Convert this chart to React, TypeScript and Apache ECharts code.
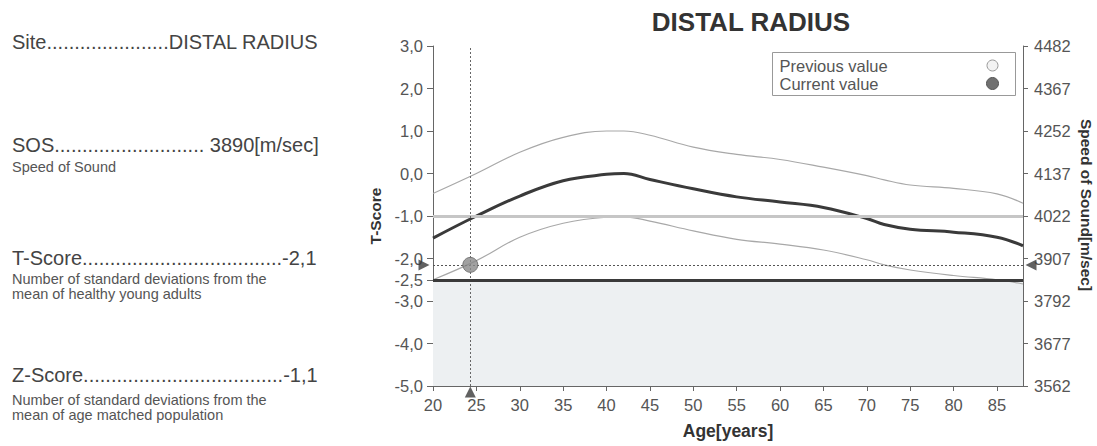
import React, { useEffect, useRef } from "react";
import * as echarts from "echarts";

// ---- data ----
const ages = [20, 25, 30, 35, 40, 42, 45, 50, 55, 60, 65, 70, 72, 75, 80, 85, 88];
const meanT = [-1.52, -1.0, -0.53, -0.17, -0.02, 0.0, -0.14, -0.36, -0.55, -0.67, -0.8, -1.06, -1.2, -1.31, -1.38, -1.5, -1.7];
const upperT = [-0.47, 0.0, 0.5, 0.85, 1.0, 1.0, 0.9, 0.62, 0.45, 0.33, 0.15, -0.05, -0.15, -0.27, -0.35, -0.48, -0.7];
const lowerT = [-2.5, -2.05, -1.5, -1.17, -1.03, -1.02, -1.12, -1.35, -1.55, -1.66, -1.8, -2.03, -2.15, -2.27, -2.4, -2.5, -2.6];

const xTicks = [20, 25, 30, 35, 40, 45, 50, 55, 60, 65, 70, 75, 80, 85];
const tTicks = [3, 2, 1, 0, -1, -2, -2.5, -3, -4, -5];
const sosTickLabels = ["4482", "4367", "4252", "4137", "4022", "3907", "3792", "3677", "3562"]; // for T = 3 ... -5

const patientAge = 24.3;
const patientT = -2.15;
const osteoporosisT = -2.5;
const osteopeniaT = -1.0;

const panelRows = [
  { label: "Site", dots: 22, value: "DISTAL RADIUS", y: 42 },
  { label: "SOS", dots: 27, value: " 3890[m/sec]", y: 145 },
  { label: "T-Score", dots: 36, value: "-2,1", y: 258 },
  { label: "Z-Score", dots: 36, value: "-1,1", y: 375 },
];
const panelNotes = [
  { text: "Speed of Sound", y: 167 },
  { text: "Number of standard deviations from the", y: 279 },
  { text: "mean of healthy young adults", y: 294 },
  { text: "Number of standard deviations from the", y: 400 },
  { text: "mean of age matched population", y: 415 },
];

const FONT = "'Liberation Sans', Arial, Helvetica, sans-serif";
const fmt = (v: number) => v.toFixed(1).replace(".", ",");

export default function App() {
  const ref = useRef<HTMLDivElement>(null);
  useEffect(() => {
    const chart = echarts.init(ref.current!, null, { renderer: "svg" });
    const pairs = (ys: number[]) => ages.map((a, i) => [a, ys[i]]);

    const graphic: any[] = [];
    panelRows.forEach((r) => {
      graphic.push({
        type: "text",
        x: 12,
        y: r.y,
        style: {
          text: r.label + ".".repeat(r.dots) + r.value,
          fill: "#444",
          font: `20px ${FONT}`,
          verticalAlign: "middle",
        },
      });
    });
    panelNotes.forEach((n) => {
      graphic.push({
        type: "text",
        x: 12,
        y: n.y,
        style: { text: n.text, fill: "#555", font: `14.5px ${FONT}`, verticalAlign: "middle" },
      });
    });
    // legend box
    graphic.push({
      type: "group",
      left: 772,
      top: 52,
      children: [
        { type: "rect", shape: { x: 0, y: 0, width: 243, height: 43 }, style: { fill: "#fff", stroke: "#999", lineWidth: 1 } },
        { type: "text", x: 7, y: 13, style: { text: "Previous value", fill: "#555", font: `16.5px ${FONT}`, verticalAlign: "middle" } },
        { type: "text", x: 7, y: 31, style: { text: "Current value", fill: "#555", font: `16.5px ${FONT}`, verticalAlign: "middle" } },
        { type: "circle", shape: { cx: 220, cy: 13, r: 5.5 }, style: { fill: "#f3f3f3", stroke: "#999", lineWidth: 1 } },
        { type: "circle", shape: { cx: 220, cy: 31, r: 6 }, style: { fill: "#707070", stroke: "#555", lineWidth: 1 } },
      ],
    });
    // right axis name
    graphic.push({
      type: "text",
      x: 1086,
      y: 205,
      rotation: -Math.PI / 2,
      style: {
        text: "Speed of Sound[m/sec]",
        fill: "#333",
        font: `bold 15.5px ${FONT}`,
        align: "center",
        verticalAlign: "middle",
      },
    });

    const option: any = {
      animation: false,
      backgroundColor: "#fff",
      title: {
        text: "DISTAL RADIUS",
        left: 746,
        top: 4,
        textAlign: "center",
        textStyle: { fontFamily: FONT, fontSize: 26, fontWeight: "bold", color: "#333" },
      },
      grid: { left: 433, right: 74, top: 46, bottom: 60, containLabel: false },
      xAxis: {
        type: "value",
        min: 20,
        max: 88,
        name: "Age[years]",
        nameLocation: "middle",
        nameGap: 36,
        nameTextStyle: { fontFamily: FONT, fontSize: 17.5, fontWeight: "bold", color: "#333" },
        axisLine: { onZero: false, lineStyle: { color: "#666", width: 1 } },
        axisTick: { show: true, length: 5, customValues: xTicks, lineStyle: { color: "#666" } },
        axisLabel: { customValues: xTicks, fontFamily: FONT, fontSize: 16.5, color: "#555", margin: 10 },
        splitLine: { show: false },
      },
      yAxis: [
        {
          type: "value",
          min: -5,
          max: 3,
          position: "left",
          name: "T-Score",
          nameLocation: "middle",
          nameRotate: 90,
          nameGap: 50,
          nameTextStyle: { fontFamily: FONT, fontSize: 15.5, fontWeight: "bold", color: "#333" },
          axisLine: { show: true, lineStyle: { color: "#666", width: 1 } },
          axisTick: { show: true, length: 6, customValues: tTicks, lineStyle: { color: "#666" } },
          axisLabel: {
            customValues: tTicks,
            formatter: (v: number) => fmt(v),
            fontFamily: FONT,
            fontSize: 16.5,
            color: "#555",
            margin: 10,
          },
          splitLine: { show: false },
        },
        {
          type: "value",
          min: -5,
          max: 3,
          interval: 1,
          position: "right",
          axisLine: { show: true, lineStyle: { color: "#666", width: 1 } },
          axisTick: { show: true, length: 5, lineStyle: { color: "#666" } },
          axisLabel: {
            formatter: (v: number) => sosTickLabels[Math.round(3 - v)],
            fontFamily: FONT,
            fontSize: 16.5,
            color: "#555",
            margin: 11,
          },
          splitLine: { show: false },
        },
      ],
      graphic,
      series: [
        {
          name: "zones",
          type: "line",
          data: [],
          markArea: {
            silent: true,
            itemStyle: { color: "#edf0f2" },
            data: [[{ yAxis: -5 }, { yAxis: osteoporosisT }]],
          },
          markLine: {
            silent: true,
            symbol: "none",
            label: { show: false },
            data: [
              { yAxis: osteopeniaT, lineStyle: { color: "#c6c6c6", width: 3, type: "solid" } },
              { yAxis: patientT, lineStyle: { color: "#555", width: 1.2, type: [2, 2] } },
              { xAxis: patientAge, lineStyle: { color: "#666", width: 1, type: [2, 2] } },
              { yAxis: osteoporosisT, lineStyle: { color: "#3a3a3a", width: 3, type: "solid" } },
            ],
          },
        },
        {
          name: "+1 SD",
          type: "line",
          smooth: 0.4,
          showSymbol: false,
          data: pairs(upperT),
          lineStyle: { color: "#a8a8a8", width: 1.2 },
        },
        {
          name: "-1 SD",
          type: "line",
          smooth: 0.4,
          showSymbol: false,
          data: pairs(lowerT),
          lineStyle: { color: "#a8a8a8", width: 1.2 },
        },
        {
          name: "Mean",
          type: "line",
          smooth: 0.4,
          showSymbol: false,
          data: pairs(meanT),
          lineStyle: { color: "#3a3a3a", width: 3 },
        },
        {
          name: "Current value",
          type: "scatter",
          data: [[patientAge, patientT]],
          symbolSize: 15,
          itemStyle: { color: "#8a8a8a", borderColor: "#666", borderWidth: 1 },
          z: 5,
        },
        {
          name: "markers",
          type: "scatter",
          clip: false,
          symbol: "triangle",
          symbolSize: 11,
          itemStyle: { color: "#3a3a3a" },
          data: [
            { value: [20, patientT], symbolRotate: -90, symbolOffset: [-9, 0] },
            { value: [88, patientT], symbolRotate: 90, symbolOffset: [8, 0] },
            { value: [patientAge, -5], symbolRotate: 0, symbolOffset: [0, 6] },
          ],
          z: 6,
        },
      ],
    };
    chart.setOption(option);
    return () => chart.dispose();
  }, []);
  return (
    <div
      ref={ref}
      style={{ position: "absolute", left: 0, top: 0, width: 1097, height: 446, background: "#fff" }}
    />
  );
}
